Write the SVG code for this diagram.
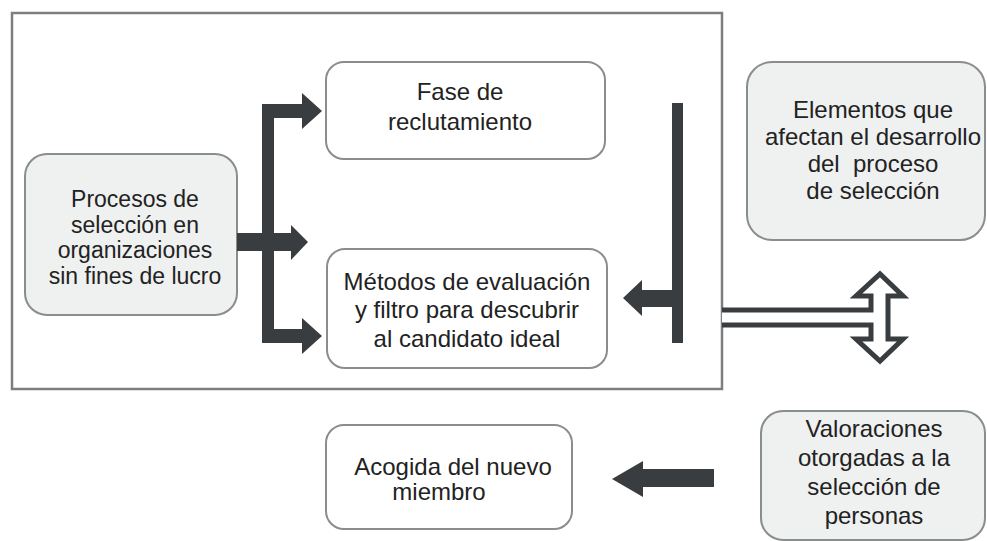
<svg xmlns="http://www.w3.org/2000/svg" width="987" height="541" viewBox="0 0 987 541">
<style>
.frame{fill:none;stroke:#7c7f80;stroke-width:2.5}
.box{fill:#ffffff;stroke:#8a8d8e;stroke-width:2}
.gbox{fill:#eff0f0;stroke:#8a8d8e;stroke-width:2}
.t{font-family:"Liberation Sans",Arial,sans-serif;font-size:24px;fill:#222;text-anchor:middle}
.s{font-size:23px}
.ar{fill:#3a3d3f}
.dbl{fill:#fff;stroke:#3a3d3f;stroke-width:5;stroke-linejoin:miter}
</style>
<rect class="frame" x="12" y="13" width="710" height="376"/>
<g id="procesos">
<rect class="gbox" x="25" y="154" width="212" height="161" rx="22"/>
<text class="t s" x="135" y="207">Procesos de</text>
<text class="t s" x="135" y="232.5">selección en</text>
<text class="t s" x="135" y="258">organizaciones</text>
<text class="t s" x="135" y="283.5">sin fines de lucro</text>
</g>
<g id="fase">
<rect class="box" x="326" y="62" width="279" height="97" rx="18"/>
<text class="t" x="460" y="100">Fase de</text>
<text class="t" x="460" y="130">reclutamiento</text>
</g>
<g id="metodos">
<rect class="box" x="327" y="249" width="280" height="119" rx="18"/>
<text class="t" x="467" y="290">Métodos de evaluación</text>
<text class="t" x="467" y="318">y filtro para descubrir</text>
<text class="t" x="467" y="347">al candidato ideal</text>
</g>
<g id="elementos">
<rect class="gbox" x="747" y="62" width="238" height="178" rx="25"/>
<text class="t" x="873" y="118">Elementos que</text>
<text class="t" x="873" y="145">afectan el desarrollo</text>
<text class="t" x="873" y="172" xml:space="preserve">del  proceso</text>
<text class="t" x="873" y="199">de selección</text>
</g>
<g id="acogida">
<rect class="box" x="326" y="425" width="246" height="104" rx="18"/>
<text class="t" x="453" y="475">Acogida del nuevo</text>
<text class="t" x="439" y="500">miembro</text>
</g>
<g id="valoraciones">
<rect class="gbox" x="761" y="411" width="224" height="129" rx="22"/>
<text class="t" x="874" y="437">Valoraciones</text>
<text class="t" x="874" y="466">otorgadas a la</text>
<text class="t" x="874" y="495">selección de</text>
<text class="t" x="874" y="524">personas</text>
</g>
<g id="connectors">
<rect class="ar" x="262" y="104" width="12" height="239"/>
<rect class="ar" x="262" y="104" width="42" height="14"/>
<polygon class="ar" points="302,93 322,111 302,129"/>
<rect class="ar" x="237" y="233" width="56" height="18"/>
<polygon class="ar" points="291,225 308,242 291,260"/>
<rect class="ar" x="262" y="329" width="42" height="14"/>
<polygon class="ar" points="302,318 322,336 302,354"/>
<rect class="ar" x="672" y="103" width="11" height="240"/>
<rect class="ar" x="640" y="290" width="33" height="17"/>
<polygon class="ar" points="642,280 623,298 642,316"/>
<path class="dbl" d="M722,310 H871 V296 H856 L880,274 L903,296 H888 V339 H903 L880,361 L856,339 H871 V325 H722"/>
<rect class="ar" x="641" y="469" width="73" height="18"/>
<polygon class="ar" points="643,461 612,479 643,497"/>
</g>
</svg>
